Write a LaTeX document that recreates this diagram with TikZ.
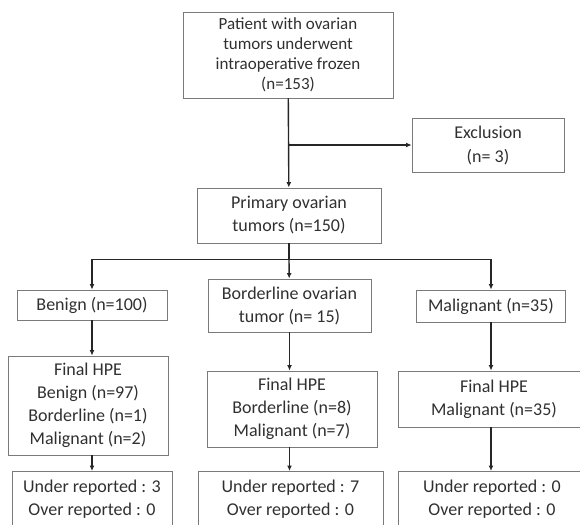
\documentclass[tikz,border=0pt]{standalone}
\usepackage{fontspec}
\setmainfont{Carlito}
\usetikzlibrary{arrows.meta}
\definecolor{txtgray}{HTML}{303030}
\definecolor{boxgray}{HTML}{7A7A7A}
\definecolor{linegray}{HTML}{262626}
\tikzset{
  box/.style={draw=boxgray, line width=0.9pt, align=center, text=txtgray,
    font=\fontsize{18}{23}\selectfont, inner sep=0pt},
  flow/.style={draw=linegray, line width=1.4pt},
  arrow path/.style={flow, -{Latex[length=5.5pt,width=5pt]}}
}

\begin{document}
\begin{tikzpicture}[x=1pt, y=-1pt] % flow chart
\clip (0,0) rectangle (580,524);

\node[box, minimum width=210, minimum height=86, font=\fontsize{17}{20}\selectfont] (patient) at (288,55)
  {Patient with ovarian\\tumors underwent\\intraoperative frozen\\(n=153)};
\node[box, minimum width=152, minimum height=54, font=\fontsize{18}{24}\selectfont] (excl) at (488,145)
  {Exclusion\\(n= 3)};
\node[box, minimum width=184, minimum height=55] (primary) at (289,215.5)
  {Primary ovarian\\tumors (n=150)};

\node[box, minimum width=150, minimum height=30] (benign) at (92,305) {Benign (n=100)};
\node[box, minimum width=163, minimum height=53] (border) at (289.5,305.5)
  {Borderline ovarian\\tumor (n= 15)};
\node[box, minimum width=149, minimum height=32] (malig) at (491,306) {Malignant (n=35)};

\node[box, minimum width=160, minimum height=99] (hpeben) at (88,405.5)
  {Final HPE\\Benign (n=97)\\Borderline (n=1)\\Malignant (n=2)};
\node[box, minimum width=170, minimum height=76] (hpebor) at (292,409)
  {Final HPE\\Borderline (n=8)\\Malignant (n=7)};
\node[box, minimum width=192, minimum height=56] (hpemal) at (494,399)
  {Final HPE\\Malignant (n=35)};

\node[box, minimum width=160, minimum height=56, anchor=north] (repben) at (92,471)
  {Under reported : 3\\Over reported : 0};
\node[box, minimum width=185, minimum height=56, anchor=north] (repbor) at (290.5,471)
  {Under reported : 7\\Over reported : 0};
\node[box, minimum width=188, minimum height=56, anchor=north] (repmal) at (492,471)
  {Under reported : 0\\Over reported : 0};

\draw[arrow path] (patient) -- (primary);
\draw[arrow path] (patient.south |- excl.west) -- (excl);

\coordinate (fork) at ([yshift=-16]primary.south);
\draw[flow] (primary) -- (fork);
\draw[arrow path] (fork) -| (benign);
\draw[arrow path] (fork) -- (border);
\draw[arrow path] (fork) -| (malig);

\draw[arrow path] (benign) -- (benign.south |- hpeben.north);
\draw[arrow path] (border) -- (border.south |- hpebor.north);
\draw[arrow path] (malig) -- (malig.south |- hpemal.north);

\draw[arrow path] (hpeben.south -| benign.south) -- (benign.south |- repben.north);
\draw[arrow path] (hpebor.south -| border.south) -- (border.south |- repbor.north);
\draw[arrow path] (hpemal.south -| malig.south) -- (malig.south |- repmal.north);
\end{tikzpicture}
\end{document}
